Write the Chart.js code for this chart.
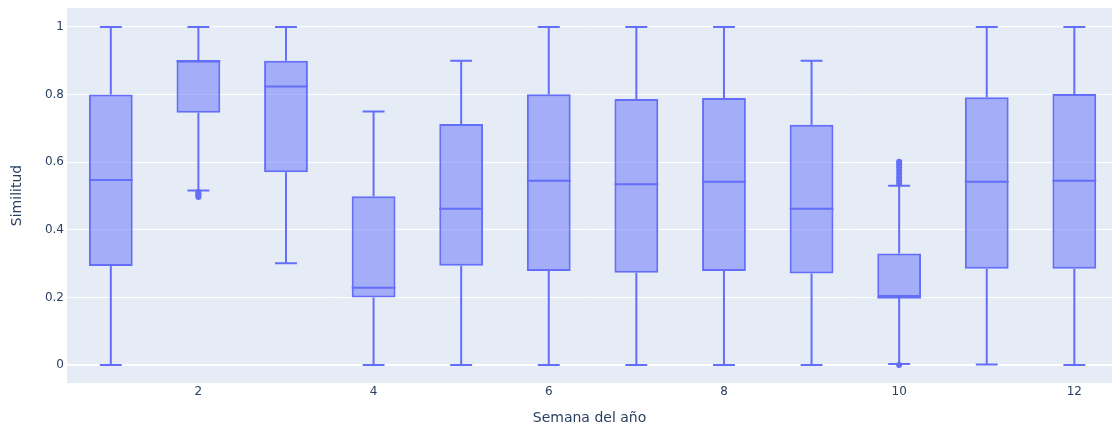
<!DOCTYPE html>
<html>
<head>
<meta charset="utf-8">
<script src="https://cdn.jsdelivr.net/npm/chart.js@4.4.1/dist/chart.umd.min.js"></script>
<style>
  html, body { margin: 0; padding: 0; background: #ffffff; }
  #wrap { width: 1112px; height: 425px; }
</style>
</head>
<body>
<div id="wrap"><canvas id="c"></canvas></div>
<script>
// Weekly similarity distribution (box summary per week)
const weeks       = [1, 2, 3, 4, 5, 6, 7, 8, 9, 10, 11, 12];
const lowerFence  = [0.000, 0.516, 0.301, 0.000, 0.000, 0.000, 0.000, 0.000, 0.000, 0.003, 0.002, 0.000];
const q1          = [0.293, 0.746, 0.570, 0.200, 0.294, 0.278, 0.273, 0.278, 0.271, 0.201, 0.285, 0.285];
const medians     = [0.547, 0.899, 0.824, 0.229, 0.462, 0.545, 0.535, 0.542, 0.462, 0.200, 0.542, 0.545];
const q3          = [0.800, 0.900, 0.900, 0.499, 0.713, 0.801, 0.787, 0.790, 0.711, 0.330, 0.792, 0.802];
const upperFence  = [1.000, 1.000, 1.000, 0.750, 0.900, 1.000, 1.000, 1.000, 0.900, 0.530, 1.000, 1.000];
const outlierWeek = [2, 2, 2, 2, 10, 10, 10, 10, 10, 10, 10, 10, 10];
const outlierVal  = [0.497, 0.502, 0.507, 0.512, 0.000, 0.537, 0.546, 0.555, 0.565, 0.575, 0.585, 0.594, 0.601];
const xTicks      = [2, 4, 6, 8, 10, 12];
const yTicks      = [0, 0.2, 0.4, 0.6, 0.8, 1];

const LINE = '#636efa';
const FILL = 'rgba(99,110,250,0.5)';
const TEXT = '#2a3f5f';
const FONT = 'Verdana, "DejaVu Sans", sans-serif';

const boxData = weeks.map((w, i) => ({ x: w, y: [q1[i], q3[i]] }));
const outlierData = outlierWeek.map((w, i) => ({ x: w, y: outlierVal[i] }));

// Plot background
const plotBg = {
  id: 'plotBg',
  beforeDraw(chart) {
    const { ctx, chartArea: a } = chart;
    ctx.save();
    ctx.fillStyle = '#e5ecf6';
    ctx.fillRect(a.left, a.top, a.right - a.left, a.bottom - a.top);
    ctx.restore();
  }
};

// Whiskers, caps and median lines for each box
const boxParts = {
  id: 'boxParts',
  afterDatasetsDraw(chart) {
    const { ctx } = chart;
    const xs = chart.scales.x, ys = chart.scales.y;
    const bars = chart.getDatasetMeta(0).data;
    ctx.save();
    ctx.strokeStyle = LINE;
    ctx.lineWidth = 2;
    weeks.forEach((w, i) => {
      const cx = xs.getPixelForValue(w);
      const half = bars[i].width / 2;
      const cap = half / 2;
      const yLo = ys.getPixelForValue(lowerFence[i]);
      const yQ1 = ys.getPixelForValue(q1[i]);
      const yQ3 = ys.getPixelForValue(q3[i]);
      const yHi = ys.getPixelForValue(upperFence[i]);
      const yMed = ys.getPixelForValue(medians[i]);
      ctx.beginPath();
      ctx.moveTo(cx, yQ1); ctx.lineTo(cx, yLo);
      ctx.moveTo(cx - cap, yLo); ctx.lineTo(cx + cap, yLo);
      ctx.moveTo(cx, yQ3); ctx.lineTo(cx, yHi);
      ctx.moveTo(cx - cap, yHi); ctx.lineTo(cx + cap, yHi);
      ctx.moveTo(cx - half, yMed); ctx.lineTo(cx + half, yMed);
      ctx.stroke();
    });
    ctx.restore();
  }
};

new Chart(document.getElementById('c'), {
  type: 'bar',
  data: {
    datasets: [
      {
        type: 'bar',
        data: boxData,
        backgroundColor: FILL,
        borderColor: LINE,
        borderWidth: 2,
        borderSkipped: false,
        barPercentage: 0.5,
        categoryPercentage: 1.0,
        order: 2
      },
      {
        type: 'scatter',
        data: outlierData,
        backgroundColor: LINE,
        borderColor: LINE,
        borderWidth: 0,
        pointRadius: 3,
        order: 1
      }
    ]
  },
  options: {
    responsive: true,
    maintainAspectRatio: false,
    animation: false,
    layout: { autoPadding: false, padding: { top: 8, right: 0, bottom: 0, left: 0 } },
    plugins: { legend: { display: false }, tooltip: { enabled: false } },
    scales: {
      x: {
        type: 'linear',
        min: 0.5,
        max: 12.43,
        offset: false,
        afterBuildTicks(scale) { scale.ticks = xTicks.map(v => ({ value: v })); },
        afterFit(scale) {
          scale.height = 42;
          scale.paddingLeft = 0;
          scale.paddingRight = 0;
        },
        grid: { display: false, drawTicks: false },
        border: { display: false },
        ticks: {
          padding: 2,
          color: TEXT,
          font: { family: FONT, size: 12 },
          maxRotation: 0,
          autoSkip: false,
          callback: v => String(v)
        },
        title: {
          display: true,
          text: 'Semana del año',
          color: TEXT,
          font: { family: FONT, size: 14, lineHeight: 1 },
          padding: { top: 0, bottom: 0 }
        }
      },
      y: {
        min: -0.053,
        max: 1.056,
        afterBuildTicks(scale) { scale.ticks = yTicks.map(v => ({ value: v })); },
        afterFit(scale) {
          scale.width = 67;
          scale.paddingTop = 0;
          scale.paddingBottom = 0;
        },
        grid: {
          color: '#ffffff',
          lineWidth: c => (c.tick && c.tick.value === 0 ? 2 : 1),
          drawTicks: false
        },
        border: { display: false },
        ticks: {
          padding: 3,
          color: TEXT,
          font: { family: FONT, size: 12 },
          callback: v => String(+(+v).toFixed(1))
        },
        title: {
          display: true,
          text: 'Similitud',
          color: TEXT,
          font: { family: FONT, size: 14, lineHeight: 1.2 },
          padding: { top: 9, bottom: 0 }
        }
      }
    }
  },
  plugins: [plotBg, boxParts]
});
</script>
</body>
</html>
